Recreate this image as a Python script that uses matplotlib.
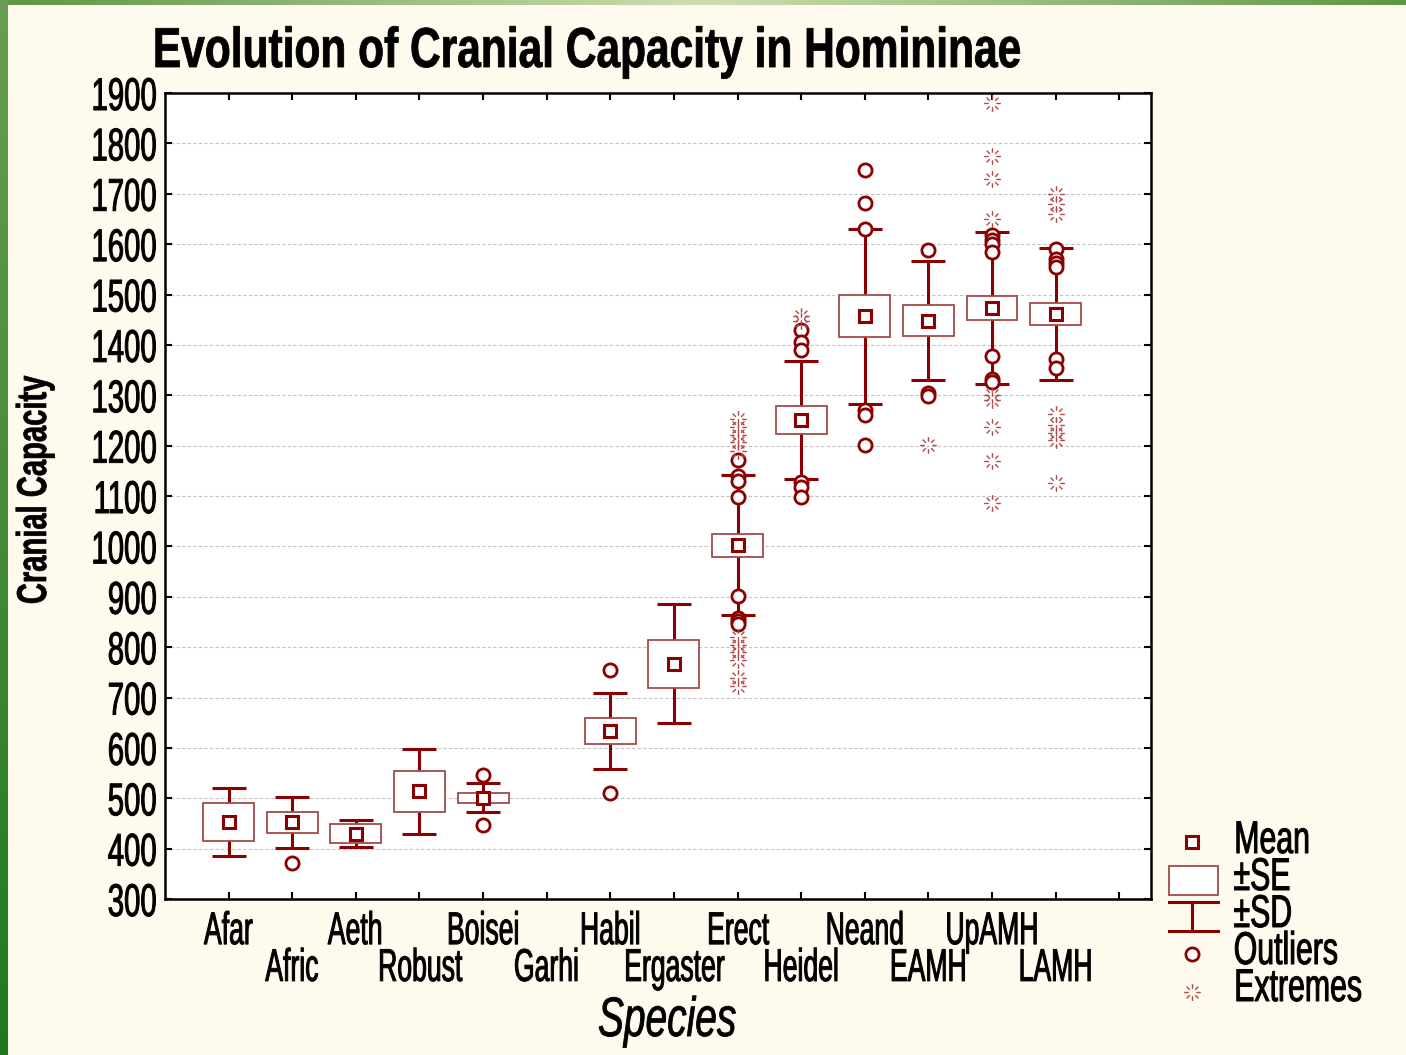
import numpy as np
import matplotlib
matplotlib.use("Agg")
import matplotlib.pyplot as plt
from matplotlib import font_manager
from matplotlib.patches import Rectangle
from matplotlib.path import Path
from matplotlib.patheffects import AbstractPathEffect
from matplotlib.transforms import Affine2D, Bbox

# prefer the narrow cut of Liberation Sans when it is available
_installed = {f.name for f in font_manager.fontManager.ttflist}
if "Liberation Sans Narrow" in _installed:
    BASE_FONT, NATURAL_WIDTH = "Liberation Sans Narrow", 0.82
else:
    BASE_FONT, NATURAL_WIDTH = "Liberation Sans", 1.0
plt.rcParams["font.family"] = [BASE_FONT, "DejaVu Sans"]

# ---------------- data ----------------
species = ["Afar", "Afric", "Aeth", "Robust", "Boisei", "Garhi", "Habil",
           "Ergaster", "Erect", "Heidel", "Neand", "EAMH", "UpAMH", "LAMH"]
means = [453, 452, 430, 514, 501, np.nan, 633, 767, 1002, 1251, 1457, 1448, 1474, 1461]
se = [38, 20, 19, 41, 10, np.nan, 26, 48, 23, 28, 42, 31, 24, 22]
sd = [68, 50, 27, 84, 29, np.nan, 75, 118, 139, 117, 174, 118, 151, 131]
outliers = [
    [], [372], [], [], [547, 447], [], [754, 511], [],
    [1172, 1140, 1130, 1099, 902, 858, 851, 845],
    [1430, 1405, 1390, 1127, 1118, 1099],
    [1748, 1681, 1630, 1270, 1260, 1202],
    [1588, 1305, 1298],
    [1618, 1608, 1600, 1584, 1378, 1333, 1326],
    [1590, 1570, 1563, 1555, 1372, 1354],
]
extremes = [
    [], [], [], [], [], [], [], [],
    [1252, 1236, 1222, 1207, 1190, 820, 805, 790, 775, 738, 722],
    [1458, 1447],
    [],
    [1201],
    [1881, 1775, 1730, 1649, 1300, 1290, 1237, 1169, 1087],
    [1700, 1680, 1660, 1262, 1240, 1225, 1212, 1126],
]
yticks = list(range(300, 2000, 100))
legend_labels = ["Mean", "±SE", "±SD", "Outliers", "Extremes"]

# ---------------- styling helpers ----------------
W, H = 1406, 1055
DARK = "#8b0000"
BOXEDGE = "#a24a4a"
EXTCOL = "#b04848"
BG = "#fefaee"


class Condensed(AbstractPathEffect):
    """Draw text squeezed horizontally (in its own frame) and slightly emboldened."""

    def __init__(self, factor, anchor="center", stroke=0.0):
        super().__init__()
        self.factor = factor
        self.anchor = anchor
        self.stroke = stroke

    def draw_path(self, renderer, gc, tpath, affine, rgbFace=None):
        if len(tpath.vertices) == 0:
            return
        ext = tpath.get_extents()
        if self.anchor == "left":
            x0 = ext.x0
        elif self.anchor == "right":
            x0 = ext.x1
        else:
            x0 = 0.5 * (ext.x0 + ext.x1)
        squeeze = Affine2D().translate(-x0, 0).scale(self.factor, 1).translate(x0, 0)
        gc0 = renderer.new_gc()
        gc0.copy_properties(gc)
        if self.stroke > 0 and rgbFace is not None:
            gc0.set_linewidth(self.stroke)
            gc0.set_foreground(rgbFace)
            gc0.set_joinstyle("round")
        renderer.draw_path(gc0, tpath, squeeze + affine, rgbFace)
        gc0.restore()


def squeeze_text(txt, width, anchor="center", stroke=0.7):
    """Render a text condensed; width is relative to the regular face."""
    f = min(1.0, width / NATURAL_WIDTH)
    txt.set_path_effects([Condensed(f, anchor, stroke)])
    full_extent = txt.get_window_extent
    vertical = abs(txt.get_rotation() % 180 - 90) < 1

    def extent(renderer=None, dpi=None):
        bb = full_extent(renderer, dpi)
        (a0, b0), (a1, b1) = bb.get_points()
        if vertical:
            lo, hi = b0, b1
        else:
            lo, hi = a0, a1
        if anchor == "left":
            hi = lo + (hi - lo) * f
        elif anchor == "right":
            lo = hi - (hi - lo) * f
        else:
            c, half = 0.5 * (lo + hi), 0.5 * (hi - lo) * f
            lo, hi = c - half, c + half
        if vertical:
            return Bbox([[a0, lo], [a1, hi]])
        return Bbox([[lo, b0], [hi, b1]])

    txt.get_window_extent = extent
    return txt


# star-burst marker for extreme values: eight short rays around an empty centre
_verts, _codes = [], []
for ang in np.deg2rad(np.arange(0, 360, 45)):
    c, s = np.cos(ang), np.sin(ang)
    _verts += [(0.45 * c, 0.45 * s), (c, s)]
    _codes += [Path.MOVETO, Path.LINETO]
burst = Path(_verts, _codes)

fig = plt.figure(figsize=(W / 100, H / 100), dpi=100, facecolor=BG)

# ---------------- frame decoration ----------------
bg = fig.add_axes([0, 0, 1, 1], zorder=-1)
bg.set_xlim(0, W)
bg.set_ylim(H, 0)
bg.axis("off")
t = np.linspace(0, 1, 512)
dark_c = np.array([95, 150, 70]) / 255
light_c = np.array([205, 222, 175]) / 255
wgt = 1 - np.abs(t - 0.5) * 2
band = dark_c[None, :] * (1 - wgt[:, None]) + light_c[None, :] * wgt[:, None]
bg.imshow(band[None, :, :], extent=(0, W, 5, 0), aspect="auto", interpolation="bilinear")
top_c = np.array([105, 158, 82]) / 255
bot_c = np.array([32, 120, 32]) / 255
side = top_c[None, :] * (1 - t[:, None]) + bot_c[None, :] * t[:, None]
bg.imshow(side[:, None, :], extent=(0, 8, H, 0), aspect="auto", interpolation="bilinear")

# ---------------- main axes ----------------
ax = fig.add_axes([165 / W, 1 - 899 / H, (1151 - 165) / W, (899 - 93) / H])
ax.set_facecolor("white")
x = np.arange(1, len(species) + 1)
m = np.array(means, float)
e = np.array(se, float)
d = np.array(sd, float)
ok = ~np.isnan(m)

ax.set_xlim(0, 15.5)
ax.set_ylim(300, 1900)
ax.set_yticks(yticks)
ax.set_yticklabels([str(v) for v in yticks])
ax.yaxis.grid(True, color="#c4c4c4", linestyle=(0, (3, 2)), linewidth=0.8)
ax.set_axisbelow(True)

# staggered category labels: odd positions on the first row, even ones below
ax.set_xticks(list(x[0::2]) + [15], species[0::2] + [""])
ax.set_xticks(x[1::2], species[1::2], minor=True)
ax.tick_params(axis="both", which="both", direction="in", length=5, width=1.5,
               top=True, right=True, labelsize=33)
ax.tick_params(axis="x", which="major", pad=8)
ax.tick_params(axis="x", which="minor", pad=34.5)
ax.tick_params(axis="y", pad=5.5)
for sp in ax.spines.values():
    sp.set_linewidth(1.8)

# whiskers (±SD) behind the ±SE boxes
ax.errorbar(x[ok], m[ok], yerr=d[ok], fmt="none", ecolor=DARK, elinewidth=2.2,
            capsize=12.5, capthick=2.2, zorder=2)
ax.bar(x[ok], 2 * e[ok], bottom=m[ok] - e[ok], width=0.8, color="white",
       edgecolor=BOXEDGE, linewidth=1.3, zorder=3)
ax.plot(x[ok], m[ok], "s", ms=8.5, mfc="white", mec=DARK, mew=2.2, zorder=5)

for xi, vals in zip(x, outliers):
    if vals:
        ax.plot([xi] * len(vals), vals, "o", ms=9.5, mfc="white", mec=DARK, mew=2,
                zorder=4)
for xi, vals in zip(x, extremes):
    if vals:
        ax.plot([xi] * len(vals), vals, linestyle="none", marker=burst, ms=12,
                mec=EXTCOL, mew=1.0, zorder=4)

for lbl in ax.get_yticklabels():
    squeeze_text(lbl, 0.64, "right")
for lbl in ax.get_xticklabels() + ax.get_xticklabels(minor=True):
    squeeze_text(lbl, 0.58, "center")

# ---------------- titles ----------------
squeeze_text(fig.text(587 / W, 1 - 67 / H, "Evolution of Cranial Capacity in Homininae",
                      ha="center", va="baseline", fontsize=40.5, fontweight="bold"),
             0.755, "center", 0.6)
squeeze_text(fig.text(35 / W, 1 - 490 / H, "Cranial Capacity", rotation=90,
                      ha="center", va="center", fontsize=30, fontweight="bold"),
             0.70, "center", 0.5)
squeeze_text(fig.text(667 / W, 1 - 1022 / H, "Species", ha="center", va="center",
                      fontsize=40, fontstyle="italic"),
             0.70, "center", 0.6)

# ---------------- legend ----------------
gx = 1192
bg.plot(gx, 842, "s", ms=8.5, mfc="white", mec=DARK, mew=2.2)
bg.add_patch(Rectangle((1169, 866), 49, 29, facecolor="white", edgecolor=BOXEDGE,
                       linewidth=1.3))
bg.plot([1169, 1218], [902, 902], color=DARK, lw=2.2)
bg.plot([1169, 1218], [931, 931], color=DARK, lw=2.2)
bg.plot([gx, gx], [902, 931], color=DARK, lw=2.2)
bg.plot(gx, 954, "o", ms=9.5, mfc="white", mec=DARK, mew=2)
bg.plot(gx, 992, linestyle="none", marker=burst, ms=12, mec=EXTCOL, mew=1.0)
for i, lab in enumerate(legend_labels):
    squeeze_text(fig.text(1233 / W, 1 - (853 + 37 * i) / H, lab, ha="left",
                          va="baseline", fontsize=33),
                 0.66, "left")

fig.savefig("out.png", dpi=100, facecolor=BG)
